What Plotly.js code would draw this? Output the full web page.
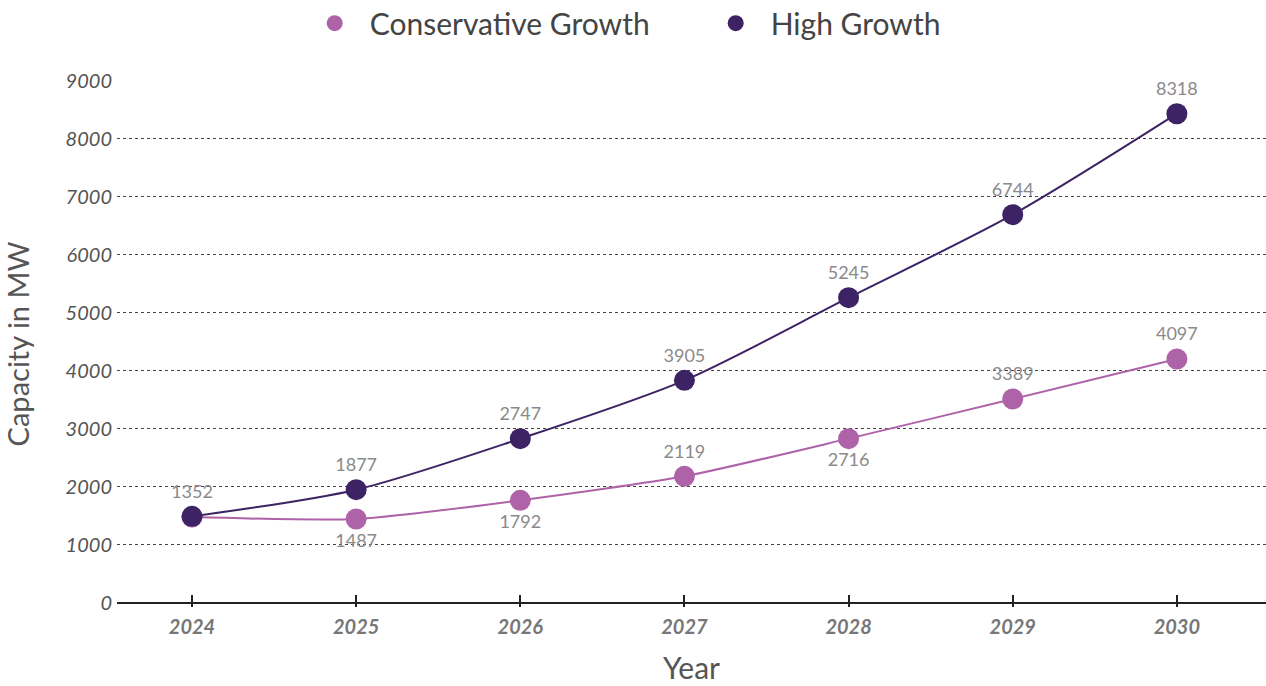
<!DOCTYPE html>
<html>
<head>
<meta charset="utf-8">
<script src="https://cdn.plot.ly/plotly-3.0.1.min.js"></script>
<style>html,body{margin:0;padding:0;background:#fff;}#chart{width:1266px;height:686px;}</style>
</head>
<body>
<div id="chart"></div>
<script>
// Data
var years = [2024, 2025, 2026, 2027, 2028, 2029, 2030];
// marker positions as drawn
var conservativeValues = [1480, 1448, 1769, 2183, 2833, 3517, 4207];
var highValues = [1493, 1953, 2833, 3838, 5264, 6695, 8436];
// data labels as printed
var conservativeLabels = ['', '1487', '1792', '2119', '2716', '3389', '4097'];
var highLabels = ['1352', '1877', '2747', '3905', '5245', '6744', '8318'];
var conservativeLabelPos = ['top center', 'bottom center', 'bottom center', 'top center', 'bottom center', 'top center', 'top center'];
var yTicks = [0, 1000, 2000, 3000, 4000, 5000, 6000, 7000, 8000, 9000];
var seriesNames = ['Conservative Growth', 'High Growth'];
var seriesColors = ['#ae62a8', '#3d2363'];

var FONT = 'Lato, "Open Sans", sans-serif';
var labelFont = {family: FONT, size: 18, color: '#8a8a8a'};

var traces = [
  {
    x: years, y: conservativeValues, name: seriesNames[0], showlegend: false,
    type: 'scatter', mode: 'lines+markers+text',
    line: {color: seriesColors[0], width: 2, shape: 'spline', smoothing: 0.6},
    marker: {color: seriesColors[0], size: 21},
    text: conservativeLabels, textposition: conservativeLabelPos,
    textfont: labelFont, cliponaxis: false, hoverinfo: 'x+y'
  },
  {
    x: years, y: highValues, name: seriesNames[1], showlegend: false,
    type: 'scatter', mode: 'lines+markers+text',
    line: {color: seriesColors[1], width: 2, shape: 'spline', smoothing: 0.8},
    marker: {color: seriesColors[1], size: 21},
    text: highLabels, textposition: 'top center',
    textfont: labelFont, cliponaxis: false, hoverinfo: 'x+y'
  }
];
// legend entries (marker only)
seriesNames.forEach(function (n, i) {
  traces.push({
    x: [null], y: [null], name: n, type: 'scatter', mode: 'markers',
    marker: {color: seriesColors[i], size: 20}, hoverinfo: 'skip'
  });
});

var layout = {
  width: 1266, height: 686,
  margin: {l: 117, r: 0, t: 81, b: 79, autoexpand: false},
  paper_bgcolor: '#fff', plot_bgcolor: '#fff',
  font: {family: FONT, color: '#555'},
  showlegend: true,
  legend: {
    orientation: 'h', x: 0.159, xanchor: 'left', y: 1.11, yanchor: 'middle',
    font: {family: FONT, size: 30, color: '#444'},
    itemwidth: 60, traceorder: 'normal', entrywidth: 326
  },
  xaxis: {
    range: [2023.543, 2030.543],
    tickvals: years, ticktext: years.map(String),
    showgrid: false, zeroline: false, showline: false,
    ticks: 'inside', ticklen: 12, tickwidth: 1.5, tickcolor: '#222',
    tickfont: {family: FONT, size: 20, color: '#777', weight: 'bold', style: 'italic'},
    ticklabelstandoff: 6,
    title: {text: 'Year', font: {family: FONT, size: 30, color: '#555'}, standoff: 20},
    automargin: false
  },
  yaxis: {
    range: [-70, 9000],
    tickvals: yTicks, ticktext: yTicks.map(String),
    showgrid: true, gridcolor: '#444', gridwidth: 1, griddash: 'dot',
    zeroline: true, zerolinecolor: '#222', zerolinewidth: 1.5,
    showline: false, ticks: '',
    tickfont: {family: FONT, size: 20, color: '#555', style: 'italic'},
    ticklabelstandoff: 4,
    title: {text: 'Capacity in MW', font: {family: FONT, size: 29, color: '#555'}, standoff: 28},
    automargin: false
  }
};

Plotly.newPlot('chart', traces, layout, {displayModeBar: false, responsive: false});
</script>
</body>
</html>
